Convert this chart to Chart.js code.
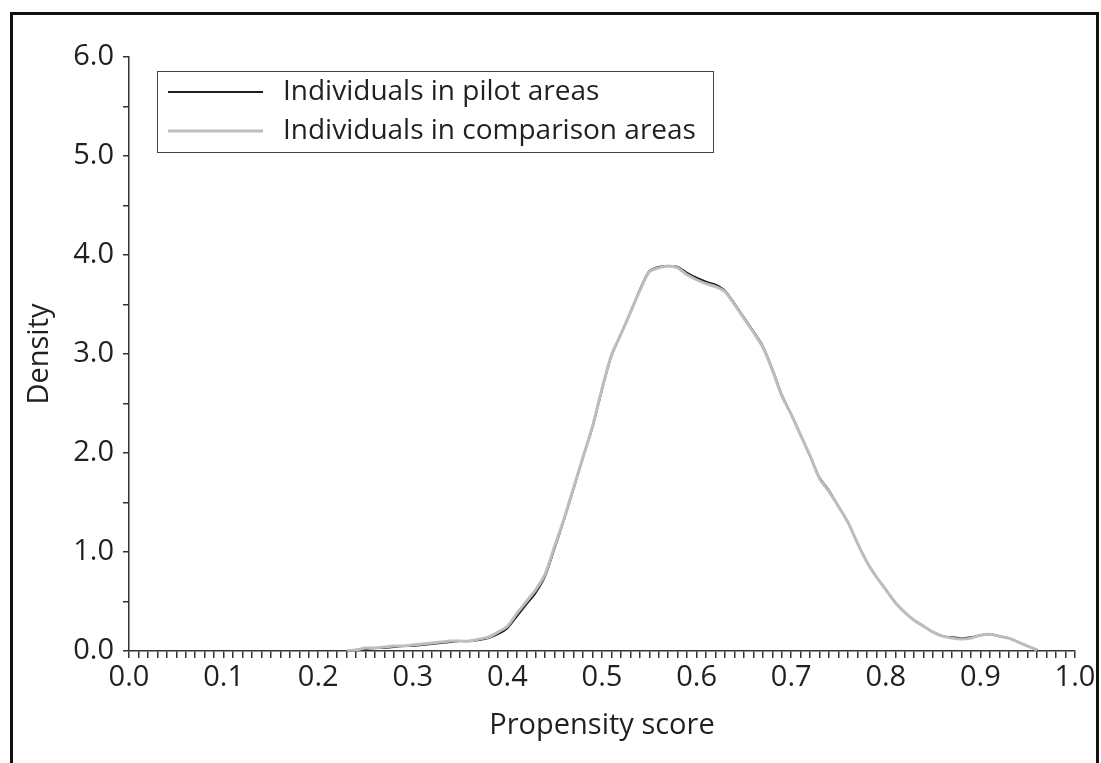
<!DOCTYPE html>
<html>
<head>
<meta charset="utf-8">
<script src="https://cdn.jsdelivr.net/npm/chart.js@4.4.0/dist/chart.umd.min.js"></script>
<style>
  html, body { margin: 0; padding: 0; background: #fff; }
  #wrap { position: relative; width: 1101px; height: 763px; overflow: hidden; }
  #frame {
    position: absolute; left: 10px; top: 12px; width: 1089px; height: 800px;
    border: 3px solid #111; box-sizing: border-box; pointer-events: none;
  }
  canvas { position: absolute; left: 0; top: 0; }
</style>
</head>
<body>
<div id="wrap">
  <div id="frame"></div>
  <canvas id="density-canvas" width="1101" height="763"></canvas>
</div>
<script>
// propensity score grid (0.23 .. 0.96, step 0.01)
const scores = [
  0.23, 0.24, 0.25, 0.26, 0.27, 0.28, 0.29, 0.30, 0.31, 0.32,
  0.33, 0.34, 0.35, 0.36, 0.37, 0.38, 0.39, 0.40, 0.41, 0.42,
  0.43, 0.44, 0.45, 0.46, 0.47, 0.48, 0.49, 0.50, 0.51, 0.52,
  0.53, 0.54, 0.55, 0.56, 0.57, 0.58, 0.59, 0.60, 0.61, 0.62,
  0.63, 0.64, 0.65, 0.66, 0.67, 0.68, 0.69, 0.70, 0.71, 0.72,
  0.73, 0.74, 0.75, 0.76, 0.77, 0.78, 0.79, 0.80, 0.81, 0.82,
  0.83, 0.84, 0.85, 0.86, 0.87, 0.88, 0.89, 0.90, 0.91, 0.92,
  0.93, 0.94, 0.95, 0.96,
];

const pilot = [
  0.00, 0.01, 0.02, 0.03, 0.03, 0.04, 0.05, 0.05, 0.06, 0.07,
  0.08, 0.09, 0.10, 0.10, 0.11, 0.13, 0.17, 0.23, 0.35, 0.47,
  0.59, 0.76, 1.04, 1.33, 1.64, 1.96, 2.26, 2.64, 2.98, 3.20,
  3.42, 3.65, 3.84, 3.88, 3.89, 3.88, 3.82, 3.77, 3.73, 3.70,
  3.64, 3.51, 3.37, 3.23, 3.08, 2.85, 2.59, 2.39, 2.18, 1.97,
  1.75, 1.62, 1.46, 1.30, 1.09, 0.90, 0.75, 0.62, 0.49, 0.39,
  0.31, 0.25, 0.19, 0.15, 0.14, 0.13, 0.14, 0.16, 0.17, 0.15,
  0.13, 0.09, 0.05, 0.01,
];

const comparison = [
  0.00, 0.01, 0.03, 0.03, 0.04, 0.05, 0.05, 0.06, 0.07, 0.08,
  0.09, 0.10, 0.10, 0.10, 0.12, 0.14, 0.19, 0.25, 0.38, 0.50,
  0.62, 0.78, 1.06, 1.34, 1.65, 1.96, 2.27, 2.65, 2.99, 3.20,
  3.42, 3.64, 3.83, 3.87, 3.89, 3.87, 3.80, 3.75, 3.71, 3.68,
  3.63, 3.50, 3.36, 3.22, 3.07, 2.84, 2.58, 2.39, 2.18, 1.97,
  1.74, 1.61, 1.46, 1.30, 1.09, 0.90, 0.75, 0.62, 0.49, 0.39,
  0.31, 0.25, 0.19, 0.15, 0.13, 0.12, 0.13, 0.16, 0.17, 0.15,
  0.13, 0.09, 0.05, 0.01,
];

const labels = ['Individuals in pilot areas', 'Individuals in comparison areas'];

const FONT = "'Open Sans', 'Noto Sans', sans-serif";
const INK = '#231f20';

// legend box drawn inside the plot, top-left
const boxLegend = {
  id: 'boxLegend',
  afterDraw(chart) {
    const { ctx } = chart;
    const x0 = 157, y0 = 71, w = 556, h = 81;
    ctx.save();
    ctx.strokeStyle = '#444';
    ctx.lineWidth = 1;
    ctx.strokeRect(x0 + 0.5, y0 + 0.5, w, h);
    ctx.font = `28px ${FONT}`;
    ctx.textBaseline = 'middle';
    chart.data.datasets.forEach((ds, i) => {
      const y = y0 + 21 + i * 39;
      ctx.strokeStyle = ds.borderColor;
      ctx.lineWidth = ds.borderWidth;
      ctx.beginPath();
      ctx.moveTo(x0 + 11, y);
      ctx.lineTo(x0 + 106, y);
      ctx.stroke();
      ctx.fillStyle = INK;
      ctx.fillText(ds.label, x0 + 126, y);
    });
    ctx.restore();
  },
};

new Chart(document.getElementById('density-canvas').getContext('2d'), {
  type: 'line',
  data: {
    datasets: [
      {
        label: labels[0],
        data: scores.map((x, i) => ({ x, y: pilot[i] })),
        borderColor: '#1e1e1e',
        borderWidth: 2,
        pointRadius: 0,
        tension: 0.25,
        fill: false,
        order: 2,
      },
      {
        label: labels[1],
        data: scores.map((x, i) => ({ x, y: comparison[i] })),
        borderColor: '#bdbdbd',
        borderWidth: 3,
        pointRadius: 0,
        tension: 0.25,
        fill: false,
        order: 1,
      },
    ],
  },
  options: {
    responsive: false,
    animation: false,
    layout: { padding: { top: 57, right: 26, left: 0, bottom: 0 } },
    plugins: { legend: { display: false }, tooltip: { enabled: false } },
    scales: {
      x: {
        type: 'linear',
        min: 0,
        max: 1,
        afterFit: (s) => { s.height = 112; },
        border: { color: '#333', width: 1.5 },
        grid: { drawOnChartArea: false, drawTicks: true, tickLength: 7, color: '#333', lineWidth: 1.5 },
        ticks: {
          stepSize: 0.01,
          autoSkip: false,
          maxRotation: 0,
          padding: 2,
          color: INK,
          font: { family: FONT, size: 29 },
          callback: (v) => (Math.round(v * 100) % 10 === 0 ? v.toFixed(1) : ''),
        },
        title: {
          display: true,
          text: 'Propensity score',
          color: INK,
          font: { family: FONT, size: 29 },
          padding: { top: 0, bottom: 20 },
        },
      },
      y: {
        min: 0,
        max: 6,
        afterFit: (s) => { s.width = 129; },
        border: { color: '#333', width: 1.5 },
        grid: { drawOnChartArea: false, drawTicks: true, tickLength: 6, color: '#333', lineWidth: 1.5 },
        ticks: {
          stepSize: 0.5,
          padding: 9,
          color: INK,
          font: { family: FONT, size: 29 },
          callback: (v) => (v % 1 === 0 ? v.toFixed(1) : ''),
        },
        title: {
          display: true,
          text: 'Density',
          color: INK,
          font: { family: FONT, size: 29 },
          padding: { top: 22, bottom: 0 },
        },
      },
    },
  },
  plugins: [boxLegend],
});
</script>
</body>
</html>
